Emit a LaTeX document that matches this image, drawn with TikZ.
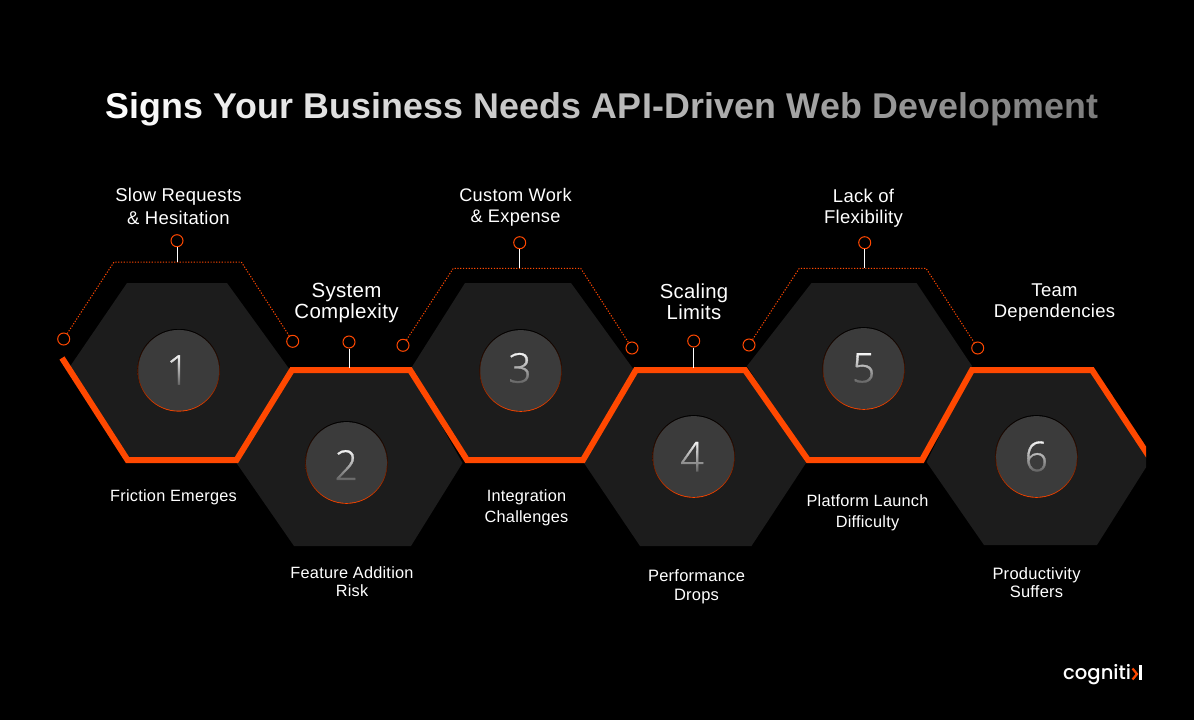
\documentclass[tikz,border=0pt]{standalone}
\usepackage{fontspec}
\usetikzlibrary{fadings,calc}
\setmainfont{Liberation Sans}
\newfontfamily\bodyfont[LetterSpace=1.5]{Liberation Sans}
\newfontfamily\titlefont[LetterSpace=0.5]{Liberation Sans}
\newfontfamily\numfont[FakeBold=0.8]{Open Sans Light}
\newfontfamily\logofont{Poppins Medium}
\definecolor{orng}{HTML}{FF4800}
\definecolor{hexc}{HTML}{1C1C1C}
\definecolor{diskc}{HTML}{3B3B3B}
\tikzfading[name=titlefade,left color=transparent!100,right color=transparent!48]
\tikzfading[name=numfade,top color=transparent!100,bottom color=transparent!15]
\tikzset{
  hexa/.style={fill=hexc,draw=none},
  rail/.style={draw=orng,line width=6pt,line join=miter,line cap=butt},
  dots/.style={draw=orng,line width=1pt,dash pattern=on 1.2pt off 1.6pt},
  stem/.style={draw=white,line width=1pt},
  pin/.style={circle,draw=orng,line width=1pt,minimum size=12pt,inner sep=0pt,fill=black},
  lbl/.style n args={2}{text=white,align=center,inner sep=0pt,font=\bodyfont\fontsize{#1}{#2}\selectfont}
}
% \numdisk{name}{x}{y}{digit}{digit x}{digit y}
\newcommand{\numdisk}[6]{%
  \fill[top color=black,bottom color=orng,middle color=black!45!orng!50!black] (#2,#3) circle (41.3);
  \fill[diskc] (#2,#3) circle (40.4);
  \node[text=white,inner sep=0pt,font=\numfont\fontsize{41}{41}\selectfont] (#1) at (#5,#6) {#4};
  \fill[diskc,path fading=numfade] ($(#5,#6)+(-17,-17)$) rectangle ($(#5,#6)+(17,17)$);
}
\begin{document}
\begin{tikzpicture}[x=1pt,y=-1pt]
\useasboundingbox (0,0) rectangle (1194,720);
\fill[black] (0,0) rectangle (1194,720);
% title
\node[text=white,inner sep=0pt,font=\titlefont\bfseries\fontsize{35.8}{35.8}\selectfont] (title) at (602,109) {Signs Your Business Needs API-Driven Web Development};
\fill[black,path fading=titlefade] (100,80) rectangle (1104,132);
% hexagons
\begin{scope}
\clip (0,0) rectangle (1146,720);
\fill[hexa] (127,283) -- (227,283) -- (290,370) -- (236.5,460) -- (127.5,460) -- (69,368) -- cycle;
\fill[hexa] (292,370) -- (410,370) -- (462.5,463) -- (411,546) -- (294,546) -- (236.5,463) -- cycle;
\fill[hexa] (465,283) -- (571,283) -- (634,370) -- (583,460) -- (467,460) -- (410,370) -- cycle;
\fill[hexa] (636,370) -- (745,370) -- (806,463) -- (751.5,546) -- (640,546) -- (584,463) -- cycle;
\fill[hexa] (811.5,283) -- (916.5,283) -- (972,366) -- (922,460) -- (808,460) -- (747,366) -- cycle;
\fill[hexa] (972,370) -- (1092,370) -- (1150,461) -- (1097,545) -- (984,545) -- (926.5,462) -- cycle;
\draw[rail] (62,358) -- (127.5,460) -- (236.5,460) -- (292,370) -- (410,370) -- (467,460) -- (583,460) -- (636,370) -- (745,370) -- (808,460) -- (922,460) -- (972,370) -- (1092,370) -- (1154,464);
\end{scope}
% disks
\numdisk{n1}{178.7}{370.3}{1}{178}{370}
\numdisk{n2}{346.5}{462.5}{2}{346.3}{465}
\numdisk{n3}{520.7}{370.5}{3}{520}{368}
\numdisk{n4}{693.7}{456.5}{4}{692}{456.7}
\numdisk{n5}{863.7}{368.5}{5}{863.7}{368}
\numdisk{n6}{1036.5}{456.5}{6}{1036.3}{456.5}
% callouts
\node[pin] (a1) at (63.7,339) {};
\node[pin] (b1) at (292.7,341.3) {};
\node[pin] (t1) at (177,240.7) {};
\coordinate (c1l) at (114,262); \coordinate (c1r) at (241.3,262); \coordinate (s1) at (177,262);
\draw[dots] (a1) -- (c1l) -- (c1r) -- (b1);
\draw[stem] (t1) -- (s1);
\node[pin] (a3) at (403,345.3) {};
\node[pin] (b3) at (632,348) {};
\node[pin] (t3) at (519.7,242.7) {};
\coordinate (c3l) at (453.3,268.3); \coordinate (c3r) at (580.7,268.3); \coordinate (s3) at (519.7,268.3);
\draw[dots] (a3) -- (c3l) -- (c3r) -- (b3);
\draw[stem] (t3) -- (s3);
\node[pin] (a5) at (749,345) {};
\node[pin] (b5) at (977.7,348) {};
\node[pin] (t5) at (864.7,242.7) {};
\coordinate (c5l) at (799.3,268.3); \coordinate (c5r) at (926,268.3); \coordinate (s5) at (864.7,268.3);
\draw[dots] (a5) -- (c5l) -- (c5r) -- (b5);
\draw[stem] (t5) -- (s5);
\node[pin] (t2) at (349,342) {};
\coordinate (s2) at (349,367.5);
\draw[stem] (t2) -- (s2);
\node[pin] (t4) at (693.7,341) {};
\coordinate (s4) at (693.7,367.5);
\draw[stem] (t4) -- (s4);
% labels
\node[lbl={18.5}{23}] (l1) at (178.5,206.5) {Slow Requests\\\& Hesitation};
\node[lbl={20.5}{21}] (l2) at (346.5,302.5) {System\\Complexity};
\node[lbl={18.2}{21}] (l3) at (515.5,207) {Custom Work\\\& Expense};
\node[lbl={18.5}{21}] (l5) at (863.5,208) {Lack of\\Flexibility};
\node[lbl={20.3}{21}] (l4) at (694,301.5) {Scaling\\Limits};
\node[lbl={18.5}{21}] (l6) at (1054.5,302.5) {Team\\Dependencies};
\node[lbl={16.3}{18}] (d1) at (173.5,497) {Friction Emerges};
\node[lbl={16.3}{18}] (d2) at (352,581.5) {Feature Addition\\Risk};
\node[lbl={16.3}{21}] (d3) at (526.5,507.5) {Integration\\Challenges};
\node[lbl={16.5}{19}] (d4) at (696.5,586.5) {Performance\\Drops};
\node[lbl={16.3}{21}] (d5) at (867.5,512.5) {Platform Launch\\Difficulty};
\node[lbl={16.5}{18}] (d6) at (1036.5,582.5) {Productivity\\Suffers};
% logo
\node[text=white,inner sep=0pt,anchor=base west,font=\logofont\fontsize{19.6}{19.6}\selectfont] (logo) at (1063,679) {cogniti};
\draw[orng,line width=2.2pt] (1132.5,668.5) -- (1137,674) -- (1132.5,679.5);
\draw[white,line width=2.2pt] (1140.5,665) -- (1140.5,680);
\end{tikzpicture}
\end{document}
